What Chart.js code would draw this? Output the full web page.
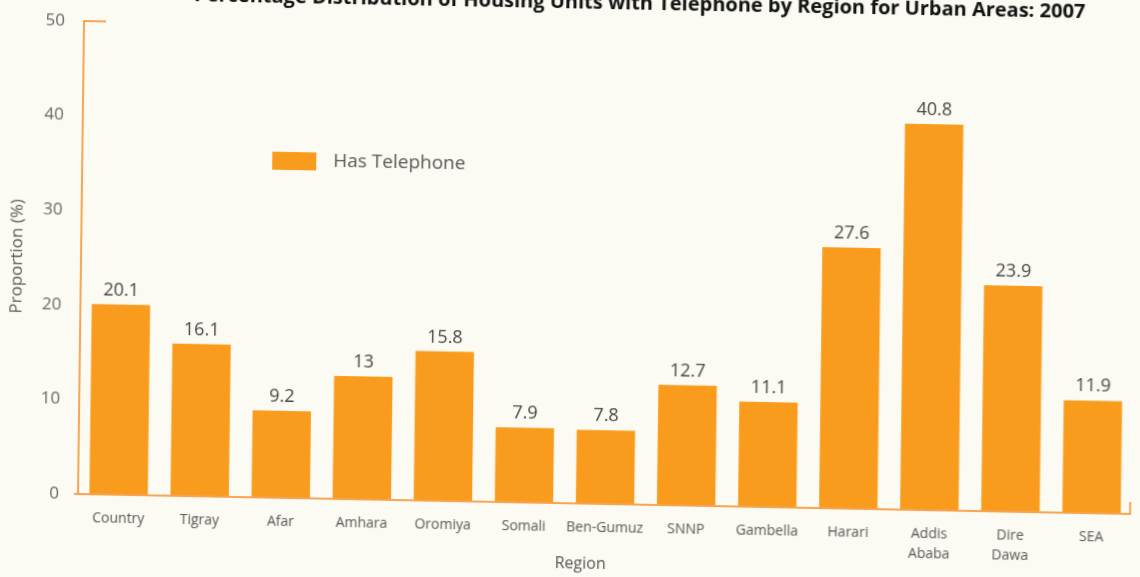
<!DOCTYPE html>
<html>
<head>
<meta charset="utf-8">
<title>Housing Units with Telephone by Region</title>
<script src="https://cdn.jsdelivr.net/npm/chart.js@4.4.1/dist/chart.umd.min.js"></script>
<style>
  html, body { margin: 0; padding: 0; background: #fcfbf3; overflow: hidden; }
  /* canvas starts 40px above the page so the title line can sit partly off the top */
  #wrap { width: 1140px; height: 617px; position: relative; margin-top: -40px; }
  #wrap canvas {
    transform-origin: 78px 534px;
    transform: matrix(1, 0.019, -0.0127, 1, 0, 0);
  }
</style>
</head>
<body>
<div id="wrap"><canvas id="telChart"></canvas></div>
<script>
// Urban areas, 2007 - share of housing units with a telephone
const regions = ['Country', 'Tigray', 'Afar', 'Amhara', 'Oromiya', 'Somali', 'Ben-Gumuz',
                 'SNNP', 'Gambella', 'Harari', ['Addis', 'Ababa'], ['Dire', 'Dawa'], 'SEA'];
const hasTelephone = [20.1, 16.1, 9.2, 13, 15.8, 7.9, 7.8, 12.7, 11.1, 27.6, 40.8, 23.9, 11.9];
const yTicks = [0, 10, 20, 30, 40, 50];
const seriesName = 'Has Telephone';
const xTitle = 'Region';
const yTitle = 'Proportion (%)';
const chartTitle = 'Percentage Distribution of Housing Units with Telephone by Region for Urban Areas: 2007';

const BAR = '#f99b1c';
const AXIS = '#f5a452';
const TEXT = '#555555';
const FONT = "'Open Sans', sans-serif";

// axis frame: left/bottom lines plus the little end stubs
const framePlugin = {
    id: 'frame',
    afterDraw(chart) {
        const { ctx, chartArea: a } = chart;
        ctx.save();
        ctx.strokeStyle = AXIS;
        ctx.lineWidth = 2;
        ctx.beginPath();
        ctx.moveTo(a.left + 22, a.top);
        ctx.lineTo(a.left, a.top);
        ctx.lineTo(a.left, a.bottom);
        ctx.moveTo(a.left - 4, a.bottom);
        ctx.lineTo(a.right - 2, a.bottom);
        ctx.lineTo(a.right - 2, a.bottom - 12);
        ctx.stroke();
        ctx.restore();
    }
};

// numbers above each bar
const valueLabels = {
    id: 'valueLabels',
    afterDatasetsDraw(chart) {
        const { ctx } = chart;
        const meta = chart.getDatasetMeta(0);
        ctx.save();
        ctx.font = `18px ${FONT}`;
        ctx.fillStyle = '#444444';
        ctx.textAlign = 'center';
        ctx.textBaseline = 'alphabetic';
        meta.data.forEach((bar, i) => {
            ctx.fillText(String(hasTelephone[i]), bar.x, bar.y - 9);
        });
        ctx.restore();
    }
};

// legend inside the plot, x-axis title, and the title line clipped by the top edge
const extraText = {
    id: 'extraText',
    afterDraw(chart) {
        const { ctx, chartArea: a } = chart;
        ctx.save();
        ctx.fillStyle = BAR;
        ctx.fillRect(a.left + 190, a.top + 127, 44, 18);
        ctx.fillStyle = TEXT;
        ctx.font = `19px ${FONT}`;
        ctx.textBaseline = 'middle';
        ctx.fillText(seriesName, a.left + 251, a.top + 136);

        ctx.font = `16px ${FONT}`;
        ctx.textAlign = 'center';
        ctx.fillText(xTitle, a.left + 503, a.bottom + 60);

        ctx.fillStyle = '#111111';
        ctx.font = `bold 20px ${FONT}`;
        ctx.textAlign = 'right';
        ctx.textBaseline = 'alphabetic';
        ctx.fillText(chartTitle, a.right - 53, a.top - 22);
        ctx.restore();
    }
};

new Chart(document.getElementById('telChart'), {
    type: 'bar',
    data: {
        labels: regions,
        datasets: [{
            label: seriesName,
            data: hasTelephone,
            backgroundColor: BAR,
            borderWidth: 0,
            barPercentage: 0.72,
            categoryPercentage: 1
        }]
    },
    options: {
        responsive: true,
        maintainAspectRatio: false,
        animation: false,
        layout: { padding: { top: 61, right: 8, left: 0, bottom: 0 } },
        plugins: {
            legend: { display: false },
            tooltip: { enabled: false }
        },
        scales: {
            x: {
                grid: { display: false, drawTicks: false },
                border: { display: false },
                ticks: {
                    color: TEXT,
                    font: { family: FONT, size: 14, lineHeight: 1.45 },
                    padding: 14,
                    maxRotation: 0,
                    autoSkip: false
                },
                afterFit(scale) {
                    scale.height = 83;
                    scale.paddingLeft = 0;
                    scale.paddingRight = 0;
                }
            },
            y: {
                min: yTicks[0],
                max: yTicks[yTicks.length - 1],
                grid: { display: false, drawTicks: false },
                border: { display: false },
                ticks: {
                    stepSize: yTicks[1] - yTicks[0],
                    color: '#666666',
                    font: { family: FONT, size: 17 },
                    padding: 19
                },
                title: {
                    display: true,
                    text: yTitle,
                    color: TEXT,
                    font: { family: FONT, size: 17 },
                    padding: { top: 4, bottom: 0 }
                },
                afterFit(scale) {
                    scale.width = 78;
                    scale.paddingTop = 0;
                    scale.paddingBottom = 0;
                }
            }
        }
    },
    plugins: [framePlugin, valueLabels, extraText]
});
</script>
</body>
</html>
